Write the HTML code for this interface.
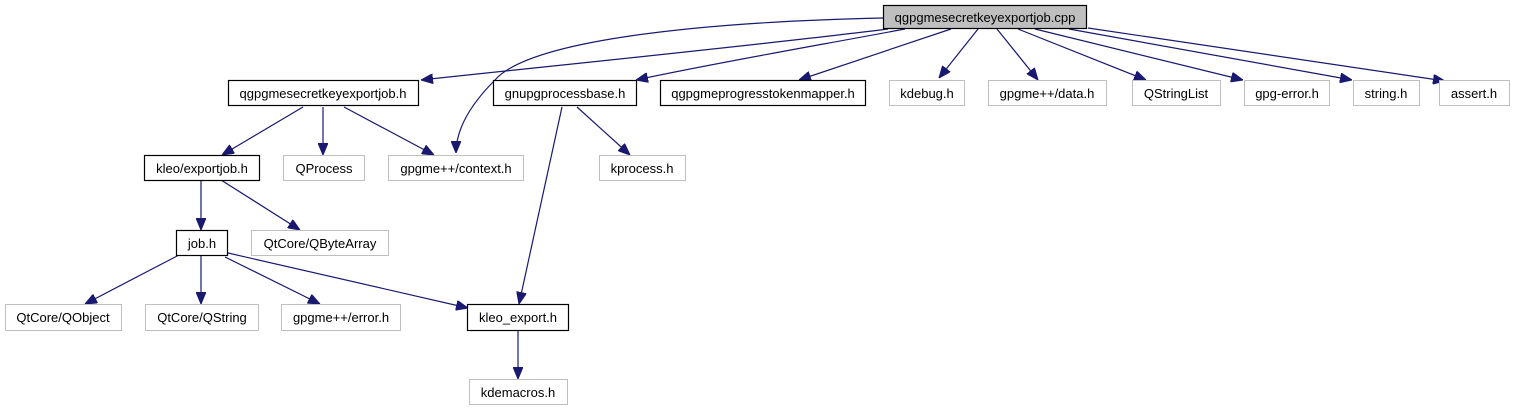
<!DOCTYPE html>
<html><head><meta charset="utf-8"><style>
html,body{margin:0;padding:0;background:#fff;}
svg{display:block;}
text{font-family:"Liberation Sans",Helvetica,sans-serif;font-size:13px;fill:#000;text-anchor:middle;}
.e{fill:none;stroke:#191970;stroke-width:1.2;}
.n{fill:#fff;stroke:#000;stroke-width:1.2;}
.g{fill:#fff;stroke:#bfbfbf;stroke-width:1;}
</style></head><body>
<svg width="1513" height="411" viewBox="0 0 1513 411" xmlns="http://www.w3.org/2000/svg">
<defs>
<marker id="a" markerWidth="12" markerHeight="10" refX="12" refY="5" orient="auto" markerUnits="userSpaceOnUse">
<polygon points="0,0 12,5 0,10" fill="#191970" stroke="#191970"/>
</marker>
</defs>
<g marker-end="url(#a)">
<path class="e" d="M883,18 C700,22 530,40 495,80 C470,105 456,130 456,153"/>
<path class="e" d="M888,29 C760,45 560,65 421,80"/>
<path class="e" d="M905,29 C820,45 720,62 636,80"/>
<path class="e" d="M951,29 L799,80"/>
<path class="e" d="M978,29 L939,78"/>
<path class="e" d="M997,29 L1038,80"/>
<path class="e" d="M1018,29 L1146,80"/>
<path class="e" d="M1035,29 L1243,80"/>
<path class="e" d="M1069,29 L1352,80"/>
<path class="e" d="M1088,28 L1445,81"/>
<path class="e" d="M303,107 L222,155"/>
<path class="e" d="M323,107 L323,155"/>
<path class="e" d="M344,107 L434,155"/>
<path class="e" d="M577,107 L630,155"/>
<path class="e" d="M562,107 L519,304"/>
<path class="e" d="M201,180 L201,230"/>
<path class="e" d="M221,180 L300,230"/>
<path class="e" d="M179,255 L85,304"/>
<path class="e" d="M201,255 L201,304"/>
<path class="e" d="M225,257 L320,304"/>
<path class="e" d="M228,253 L468,308"/>
<path class="e" d="M518,330 L518,379"/>
</g>
<rect x="883.5" y="5.5" width="203" height="23" fill="#bfbfbf" stroke="#000" stroke-width="1.2"/>
<text x="985" y="22">qgpgmesecretkeyexportjob.cpp</text>

<rect class="n" x="228.5" y="80.5" width="190" height="25"/><text x="323" y="98">qgpgmesecretkeyexportjob.h</text>
<rect class="n" x="493.5" y="80.5" width="143" height="25"/><text x="565" y="98">gnupgprocessbase.h</text>
<rect class="n" x="660.5" y="80.5" width="205" height="25"/><text x="763" y="98">qgpgmeprogresstokenmapper.h</text>
<rect class="g" x="889.5" y="80.5" width="75" height="25"/><text x="927" y="98">kdebug.h</text>
<rect class="g" x="988.5" y="80.5" width="118" height="25"/><text x="1047" y="98">gpgme++/data.h</text>
<rect class="g" x="1132.5" y="80.5" width="88" height="25"/><text x="1176" y="98">QStringList</text>
<rect class="g" x="1244.5" y="80.5" width="85" height="25"/><text x="1287" y="98">gpg-error.h</text>
<rect class="g" x="1353.5" y="80.5" width="66" height="25"/><text x="1386" y="98">string.h</text>
<rect class="g" x="1439.5" y="80.5" width="70" height="25"/><text x="1474" y="98">assert.h</text>

<rect class="n" x="144.5" y="155.5" width="115" height="25"/><text x="202" y="173">kleo/exportjob.h</text>
<rect class="g" x="283.5" y="155.5" width="81" height="25"/><text x="324" y="173">QProcess</text>
<rect class="g" x="388.5" y="155.5" width="135" height="25"/><text x="456" y="173">gpgme++/context.h</text>
<rect class="g" x="599.5" y="155.5" width="86" height="25"/><text x="642" y="173">kprocess.h</text>

<rect class="n" x="176.5" y="230.5" width="51" height="25"/><text x="202" y="248">job.h</text>
<rect class="g" x="251.5" y="230.5" width="137" height="25"/><text x="320" y="248">QtCore/QByteArray</text>

<rect class="g" x="5.5" y="304.5" width="116" height="26"/><text x="63" y="322">QtCore/QObject</text>
<rect class="g" x="145.5" y="304.5" width="113" height="26"/><text x="202" y="322">QtCore/QString</text>
<rect class="g" x="281.5" y="304.5" width="119" height="26"/><text x="341" y="322">gpgme++/error.h</text>
<rect class="n" x="467.5" y="304.5" width="101" height="26"/><text x="518" y="322">kleo_export.h</text>

<rect class="g" x="469.5" y="379.5" width="98" height="25"/><text x="518" y="397">kdemacros.h</text>
</svg>
</body></html>
